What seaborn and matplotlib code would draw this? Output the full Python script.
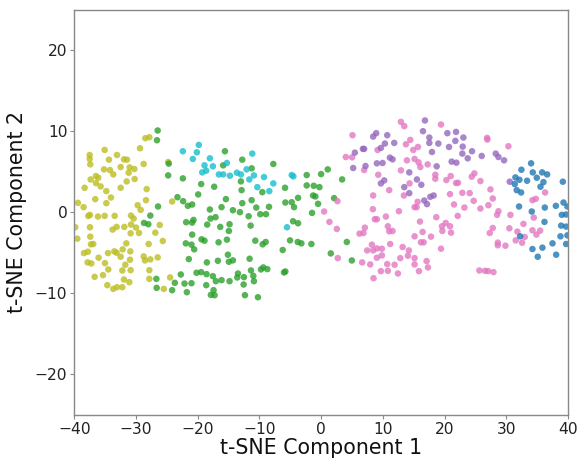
import matplotlib
matplotlib.use("Agg")
import matplotlib.pyplot as plt
import seaborn as sns
import pandas as pd

# ---- data ----
olive_x = [-28.49,-27.84,-29.35,-35.08,-37.51,-33.08,-37.51,-34.38,-31.95,-31.46,
           -37.41,-28.76,-32.49,-31.03,-35.19,-34.22,-30.27,-33.68,-31.19,-36.49,
           -36.11,-37.35,-36.49,-31.51,-30.22,-35.73,-38.33,-32.49,-34.81,-28.27,
           -34.06,-36.60,-28.38,-39.41,-34.81,-38.49,-29.73,-29.24,-37.73,-37.46,
           -36.16,-35.08,-33.46,-30.81,-30.38,-39.84,-37.46,-33.14,-33.79,-31.89,
           -30.81,-30.00,-26.87,-30.87,-29.51,-37.41,-39.51,-31.57,-37.30,-36.92,
           -27.95,-32.16,-37.79,-38.43,-34.54,-33.51,-33.14,-30.92,-28.76,-36.06,
           -32.49,-27.68,-28.54,-30.97,-26.49,-37.84,-37.24,-35.03,-31.73,-34.49,
           -32.22,-30.87,-27.84,-36.70,-35.35,-27.84,-31.95,-31.08,-34.65,-33.68,
           -32.22,-33.08,-24.79,-24.14,-26.15,-25.66,-24.47,-25.50]
olive_y = [9.13,9.25,7.89,7.68,7.06,7.06,6.57,6.48,6.52,6.48,
           5.90,5.95,5.57,5.53,5.28,5.20,5.33,4.66,4.87,4.46,
           4.25,4.04,3.59,3.80,4.09,3.18,3.01,3.01,2.60,2.85,
           1.81,1.61,1.48,1.15,1.11,0.62,0.86,0.28,-0.46,-0.34,
           -0.54,-0.46,-0.46,-0.42,-0.79,-1.86,-1.86,-1.82,-2.15,-1.82,
           -1.53,-1.90,-2.53,-2.61,-2.57,-3.02,-3.27,-3.85,-3.97,-3.93,
           -3.93,-4.59,-4.88,-5.05,-5.05,-4.84,-5.01,-4.84,-5.46,-5.62,
           -5.50,-5.83,-5.95,-5.87,-5.58,-6.20,-6.33,-6.29,-6.49,-7.07,
           -7.20,-7.16,-7.16,-7.98,-7.77,-8.23,-8.31,-8.64,-9.01,-9.47,
           -9.26,-9.26,6.19,1.32,-1.58,-3.56,-8.06,-9.47]

green_pts = [(-26.49,10.08),(-26.60,8.88),(-26.43,0.70),(-27.68,-0.42),(-28.70,-1.33),
             (-28.00,-1.49),(-26.70,-8.23),(-26.65,-9.34),
             (-15.59,7.52),(-24.69,5.99),(-24.79,4.54),(-22.41,4.17),(-12.78,6.48),
             (-15.87,5.78),(-13.00,3.80),(-19.44,3.47),(-17.33,3.14),(-19.92,2.19),
             (-15.43,1.61),(-23.28,1.85),(-22.36,1.36),(-21.60,0.78),(-20.90,0.95),
             (-12.78,1.11),(-18.03,0.33),(-16.14,0.62),(-14.30,0.24),(-13.16,0.00),
             (-17.11,-0.62),(-17.92,-0.79),(-21.87,-1.24),(-20.90,-1.29),(-20.68,-0.96),
             (-18.46,-1.53),(-14.84,-1.49),(-16.35,-1.82),(-14.95,-2.32),(-20.90,-2.77),
             (-19.38,-3.35),(-18.90,-3.52),(-16.62,-3.72),(-15.27,-3.39),(-21.93,-3.85),
             (-21.01,-4.01),(-20.57,-4.59),(-21.44,-5.79),(-15.11,-5.25),(-18.52,-6.20),
             (-16.73,-6.00),(-14.95,-6.12),(-14.30,-5.95),(-13.48,-7.57),(-13.59,-8.06),
             (-22.74,-7.69),(-20.19,-7.48),(-19.44,-7.40),(-18.57,-7.65),(-17.54,-7.90),
             (-17.06,-8.52),(-16.14,-8.39),(-14.84,-8.52),(-12.51,-8.02),(-23.71,-8.72),
             (-22.14,-8.81),(-21.01,-8.77),(-18.62,-9.01),(-12.56,-8.93),(-24.14,-9.63),
             (-21.76,-9.88),(-17.43,-9.63),(-17.87,-10.21),(-17.27,-10.25),
             (-11.26,5.41),(-7.75,5.95),(-12.89,2.72),(-11.26,1.48),(-9.53,2.47),
             (-5.85,3.01),(-2.34,4.58),(-0.01,4.70),(1.07,5.28),(-2.34,3.30),
             (-1.20,3.26),(-0.28,3.09),(-3.74,1.77),(-1.31,2.06),(-0.93,1.94),
             (-5.80,1.19),(-4.77,1.23),(-4.39,0.62),(-0.50,1.03),(-1.47,-0.09),
             (-10.51,0.57),(-8.45,0.66),(-11.75,-0.50),(-9.86,-0.25),(-8.94,-0.25),
             (-11.43,-1.66),(-4.55,-1.12),(-3.74,-1.37),(-5.04,-3.48),(-3.80,-3.68),
             (-3.20,-3.85),(-1.58,-3.93),(-10.67,-3.52),(-9.48,-3.97),(-8.99,-3.68),
             (-6.23,-4.67),(-11.59,-5.75),(-11.37,-7.19),(-9.75,-7.07),(-9.37,-6.82),
             (-8.72,-7.03),(-10.99,-7.86),(-10.89,-8.52),(-6.02,-7.44),(-5.80,-7.32),
             (-12.35,-10.25),(-10.24,-10.50),(1.56,-5.09),
             (3.40,4.04),(2.10,1.73),(4.16,-3.68),(4.97,-5.96)]

cyan_pts = [(-22.41,7.52),(-19.82,8.30),(-20.14,7.39),(-20.79,6.57),(-18.03,6.65),
            (-18.90,5.78),(-17.54,5.66),(-15.27,6.07),(-19.27,4.91),(-18.62,5.12),
            (-16.57,4.66),(-15.87,4.66),(-14.78,4.50),(-13.65,4.87),(-13.00,4.66),
            (-11.16,7.23),(-12.08,5.28),(-10.89,4.54),(-11.64,4.04),(-9.26,4.33),
            (-7.75,3.55),(-10.34,3.09),(-8.40,2.60),(-4.77,4.58),(-4.50,4.42),
            (-5.53,-1.86)]

pink_pts = [(0.48,0.08),(1.34,-1.20),
            (12.93,11.15),(13.47,10.62),(5.08,9.50),(4.00,6.81),(5.02,6.77),(9.14,7.68),
            (6.97,5.20),(9.25,4.62),(13.74,8.38),(14.44,8.92),(14.93,7.68),(13.90,6.40),
            (15.14,6.57),(12.93,5.16),(14.33,3.55),(13.41,2.06),(15.14,0.62),(11.03,2.72),
            (8.43,2.06),(2.64,1.36),(8.38,0.37),(12.60,0.12),(10.49,-0.54),(8.70,-0.87),
            (9.03,-0.87),(2.54,-2.07),(7.08,-1.91),(6.22,-2.65),(6.86,-2.57),(10.81,-1.74),
            (11.03,-2.36),(11.57,-2.32),(15.14,-2.98),(8.22,-4.01),(11.19,-3.93),(7.46,-4.72),
            (8.43,-4.72),(9.03,-4.47),(9.84,-4.51),(13.20,-4.30),(14.22,-4.72),(14.06,-5.38),
            (15.14,-5.67),(2.70,-5.67),(9.84,-5.34),(9.03,-5.62),(12.82,-5.67),(6.65,-6.20),
            (7.95,-6.45),(10.71,-6.41),(11.90,-6.49),(15.14,-6.45),(9.68,-7.28),(10.81,-7.24),
            (12.44,-7.57),(8.49,-8.15),
            (19.42,10.82),(15.69,8.05),(15.79,6.15),(16.07,5.57),(17.26,5.90),(18.50,4.62),
            (18.50,4.13),(20.29,3.96),(20.99,4.46),(21.86,3.59),(22.18,3.63),(24.40,4.38),
            (24.83,4.79),(25.81,3.84),(27.43,2.81),(27.81,1.69),(27.10,0.86),(28.73,0.12),
            (28.51,-0.33),(22.88,2.39),(24.07,2.35),(20.88,2.23),(24.72,1.40),(15.63,1.28),
            (15.47,0.62),(21.53,0.95),(23.21,0.57),(25.81,0.45),(22.13,-0.46),(18.66,-0.62),
            (16.01,-1.16),(20.18,-1.33),(20.88,-1.74),(19.58,-1.74),(19.64,-2.32),(21.04,-2.53),
            (27.81,-1.95),(27.32,-2.57),(17.80,-3.02),(16.44,-2.44),(16.17,-3.72),(16.61,-3.72),
            (19.42,-4.51),(28.62,-3.76),(28.62,-4.09),(17.09,-6.04),(17.31,-6.82),(15.85,-7.28),
            (25.64,-7.20),(26.56,-7.24),(27.05,-7.28),(27.92,-7.40),(26.89,9.17),(26.94,8.96),
            (30.34,8.14),(36.29,2.43),(34.24,1.48),(34.78,1.65),(30.67,-0.34),(34.45,-0.67),
            (30.50,-1.99),(32.78,-1.45),(31.80,-2.40),(34.24,-2.24),(35.48,-2.28),(34.89,-2.77),
            (32.99,-3.06),(31.53,-3.48),(32.56,-3.77),(29.86,-4.14)]

purple_pts = [(8.43,9.33),(8.92,9.75),(10.71,9.50),(10.33,8.47),(11.84,8.55),(9.68,7.93),
              (6.76,7.81),(6.97,7.81),(5.46,7.35),(11.14,6.73),(11.57,6.52),(9.03,6.03),
              (9.95,6.07),(7.19,5.70),(5.19,5.45),(14.28,4.91),(10.22,3.92),(9.68,3.55),
              (13.47,3.09),(14.28,2.35),
              (16.82,11.32),(16.50,10.00),(17.53,9.21),(17.53,8.55),(18.99,8.47),(20.45,9.75),
              (21.86,9.91),(23.05,9.21),(21.75,8.80),(22.94,8.09),(20.72,8.05),(17.96,7.43),
              (22.88,7.23),(24.45,7.52),(23.75,6.65),(26.02,6.94),(28.29,7.23),(28.73,6.81),
              (21.15,6.24),(21.91,6.11),(18.72,5.66),(15.52,4.04),(16.23,3.38),(16.71,1.44),
              (17.15,0.99),(17.69,1.90),(18.23,2.06),
              (29.64,6.40),(30.56,3.76)]

blue_pts = [(34.02,6.03),(32.45,5.24),(34.29,4.91),(35.81,4.91),(36.62,4.66),(34.94,4.25),
            (35.54,3.14),(31.48,4.29),(32.13,4.00),(33.37,3.88),(31.37,3.47),(36.02,3.71),
            (39.16,3.76),(31.69,2.72),(32.40,2.43),(32.07,0.70),(34.13,0.08),(36.24,0.57),
            (38.03,0.78),(39.27,1.19),(39.90,0.70),(39.00,-0.33),(39.70,-0.29),(36.19,-1.20),
            (38.89,-1.66),(39.70,-1.78),(32.24,-2.98),(38.78,-2.98),(39.90,-2.86),(34.24,-4.55),
            (35.86,-4.38),(37.49,-3.85),(39.70,-3.93),(35.10,-5.50),(38.08,-5.25)]

palette = {"olive": "#bcbd22", "green": "#2ca02c", "cyan": "#17becf",
           "pink": "#e377c2", "purple": "#9467bd", "blue": "#1f77b4"}

# ---- build table ----
rows = []
for x, y in zip(olive_x, olive_y):
    rows.append((x, y, "olive"))
for name, pts in [("green", green_pts), ("cyan", cyan_pts), ("pink", pink_pts),
                  ("purple", purple_pts), ("blue", blue_pts)]:
    for x, y in pts:
        rows.append((x, y, name))
df = pd.DataFrame(rows, columns=["x", "y", "cluster"])

sns.set_style("white")
plt.rcParams["font.family"] = ["DejaVu Sans"]

fig = plt.figure(figsize=(5.79, 4.59), dpi=100)
ax = fig.add_axes([0.1283, 0.0965, 0.8527, 0.8825])

sns.scatterplot(data=df, x="x", y="y", hue="cluster", palette=palette,
                s=22, alpha=0.8, linewidth=0, legend=False, ax=ax)

ax.set_xlim(-40, 40)
ax.set_ylim(-25, 25)
ax.set_xticks([-40, -30, -20, -10, 0, 10, 20, 30, 40])
ax.set_yticks([-20, -10, 0, 10, 20])
ax.set_xlabel("t-SNE Component 1", fontsize=14.8, color="#111111", labelpad=1)
ax.set_ylabel("t-SNE Component 2", fontsize=14.8, color="#111111", labelpad=6)
ax.tick_params(axis="both", labelsize=11.2, colors="#222222", length=3,
               width=0.8, direction="out", bottom=True, left=True, pad=2)
ax.tick_params(axis="both", color="#888888")
for sp in ax.spines.values():
    sp.set_color("#888888")
    sp.set_linewidth(1.0)

fig.savefig("out.png", dpi=100)
